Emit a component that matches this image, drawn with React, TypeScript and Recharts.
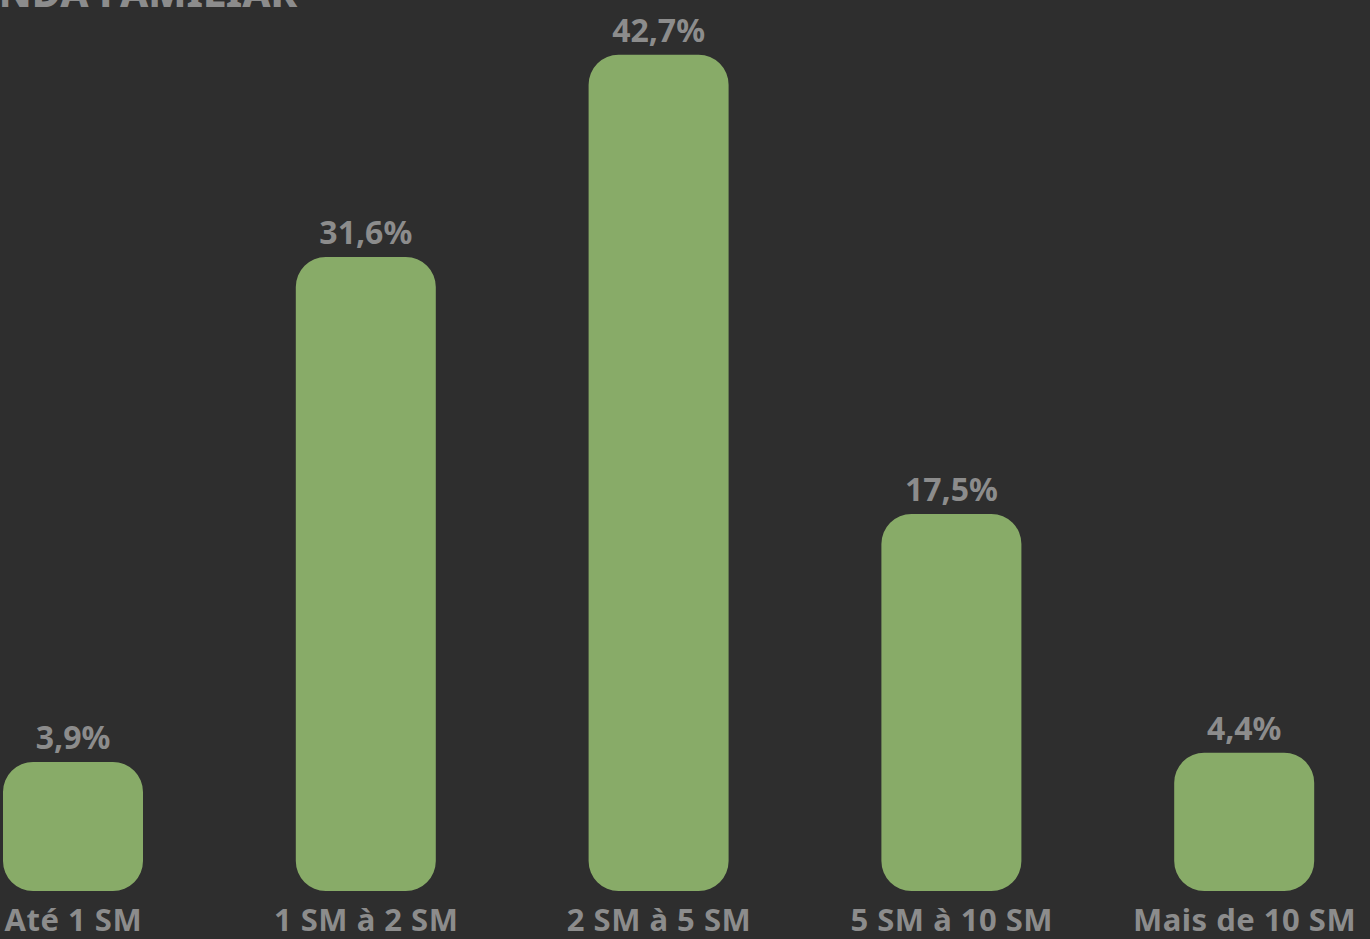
import { BarChart, Bar, XAxis, YAxis, LabelList } from "recharts"

const categories = ["Até 1 SM", "1 SM à 2 SM", "2 SM à 5 SM", "5 SM à 10 SM", "Mais de 10 SM"]
const values = [3.9, 31.6, 42.7, 17.5, 4.4]

// bars in the original start a bit below zero
const BAR_BASE = -3.18

const data = categories.map((name, i) => ({ name, value: values[i] }))

const BG = "#2e2e2e"
const GREEN = "#88ab68"
const TEXT = "#8c8c8c"
const FONT = "'Noto Sans', sans-serif"

const fmt = (v: number) => `${v.toFixed(1).replace(".", ",")}%`

export default function App() {
  return (
    <div
      style={{
        position: "fixed",
        left: 0,
        top: 0,
        width: 1370,
        height: 939,
        overflow: "hidden",
        background: BG,
      }}
    >
      <div
        style={{
          position: "absolute",
          left: -50,
          top: -36,
          fontFamily: FONT,
          fontWeight: 800,
          fontSize: 40,
          color: TEXT,
          whiteSpace: "nowrap",
        }}
      >
        RENDA FAMILIAR
      </div>
      <div style={{ position: "absolute", left: -73, top: 0 }}>
        <BarChart width={1464} height={939} data={data} margin={{ top: 0, right: 0, bottom: 0, left: 0 }}>
          <YAxis hide domain={[BAR_BASE, 45.7]} type="number" allowDataOverflow />
          <XAxis
            dataKey="name"
            height={48}
            axisLine={false}
            tickLine={false}
            tickSize={0}
            tickMargin={18}
            interval={0}
            tick={{ fill: TEXT, fontSize: 31, fontWeight: 700, fontFamily: FONT, letterSpacing: 0.5 }}
          />
          <Bar
            dataKey={(d: { value: number }) => [BAR_BASE, d.value]}
            fill={GREEN}
            barSize={140}
            radius={[30, 30, 30, 30]}
            isAnimationActive={false}
          >
            <LabelList
              dataKey="value"
              position="top"
              offset={13}
              formatter={(v: number) => fmt(v)}
              style={{ fill: TEXT, fontSize: 32, fontWeight: 700, fontFamily: FONT }}
            />
          </Bar>
        </BarChart>
      </div>
    </div>
  )
}
